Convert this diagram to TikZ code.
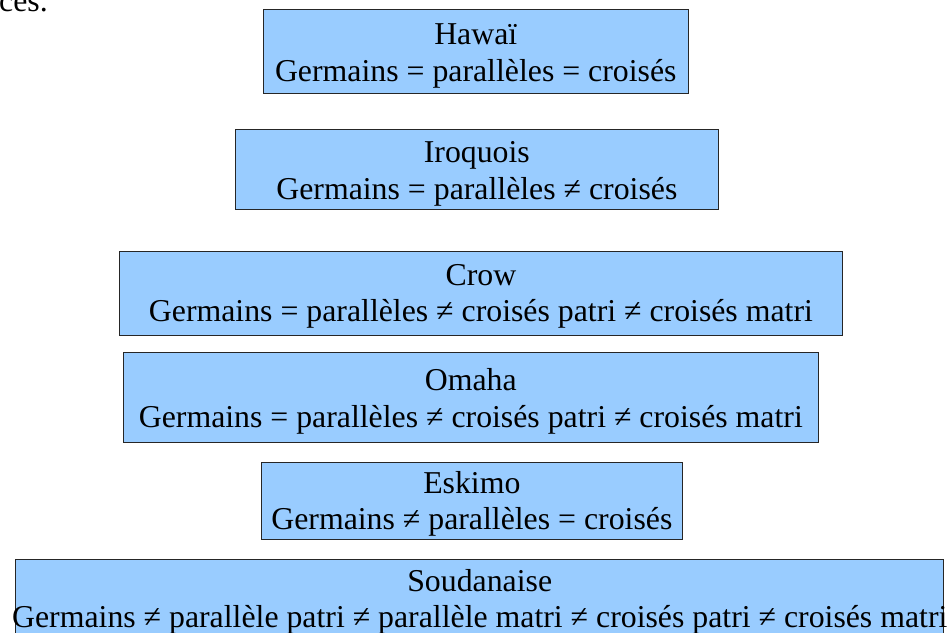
\documentclass[tikz,border=0pt]{standalone}
\usepackage{fontspec}
\setmainfont{Liberation Serif}
\begin{document}
\begin{tikzpicture}[x=1pt,y=-1pt,
  kbox/.style={draw=black!85,line width=1pt,fill=kblue,rectangle,inner sep=0pt},
  ktxt/.style={anchor=base,inner sep=0pt,font=\fontsize{31.8}{36.5}\selectfont,text=black}]
\definecolor{kblue}{HTML}{99CCFF}
\useasboundingbox (0,0) rectangle (950,632);
\clip (0,0) rectangle (950,632);
% partial text at top-left
\node[ktxt,anchor=base west] (ces) at (-1,11) {ces.};
% boxes
\node[kbox,minimum width=424.5pt,minimum height=84pt] (hawai) at (475.75,51) {};
\node[kbox,minimum width=482.3pt,minimum height=80pt] (iroquois) at (476.85,169) {};
\node[kbox,minimum width=722.8pt,minimum height=83.3pt] (crow) at (480.9,293.35) {};
\node[kbox,minimum width=695pt,minimum height=89.6pt] (omaha) at (470.8,397.5) {};
\node[kbox,minimum width=420.3pt,minimum height=77pt] (eskimo) at (471.85,500.8) {};
\node[kbox,minimum width=928pt,minimum height=86pt] (soudanaise) at (479.7,602) {};
% texts
\node[ktxt] (hawai-t) at (hawai.center |- 0,44.3) {Hawaï};
\node[ktxt] (hawai-r) at (hawai.center |- 0,81.5) {Germains = parallèles = croisés};
\node[ktxt] (iroquois-t) at (iroquois.center |- 0,162) {Iroquois};
\node[ktxt] (iroquois-r) at (iroquois.center |- 0,199) {Germains = parallèles ≠ croisés};
\node[ktxt] (crow-t) at (crow.center |- 0,285) {Crow};
\node[ktxt] (crow-r) at (crow.center |- 0,321.7) {Germains = parallèles ≠ croisés patri ≠ croisés matri};
\node[ktxt] (omaha-t) at (omaha.center |- 0,390) {Omaha};
\node[ktxt] (omaha-r) at (omaha.center |- 0,427.7) {Germains = parallèles ≠ croisés patri ≠ croisés matri};
\node[ktxt] (eskimo-t) at (eskimo.center |- 0,493.3) {Eskimo};
\node[ktxt] (eskimo-r) at (eskimo.center |- 0,529) {Germains ≠ parallèles = croisés};
\node[ktxt] (soudanaise-t) at (soudanaise.center |- 0,591) {Soudanaise};
\node[ktxt] (soudanaise-r) at (soudanaise.center |- 0,627) {Germains ≠ parallèle patri ≠ parallèle matri ≠ croisés patri ≠ croisés matri};
\end{tikzpicture}
\end{document}
